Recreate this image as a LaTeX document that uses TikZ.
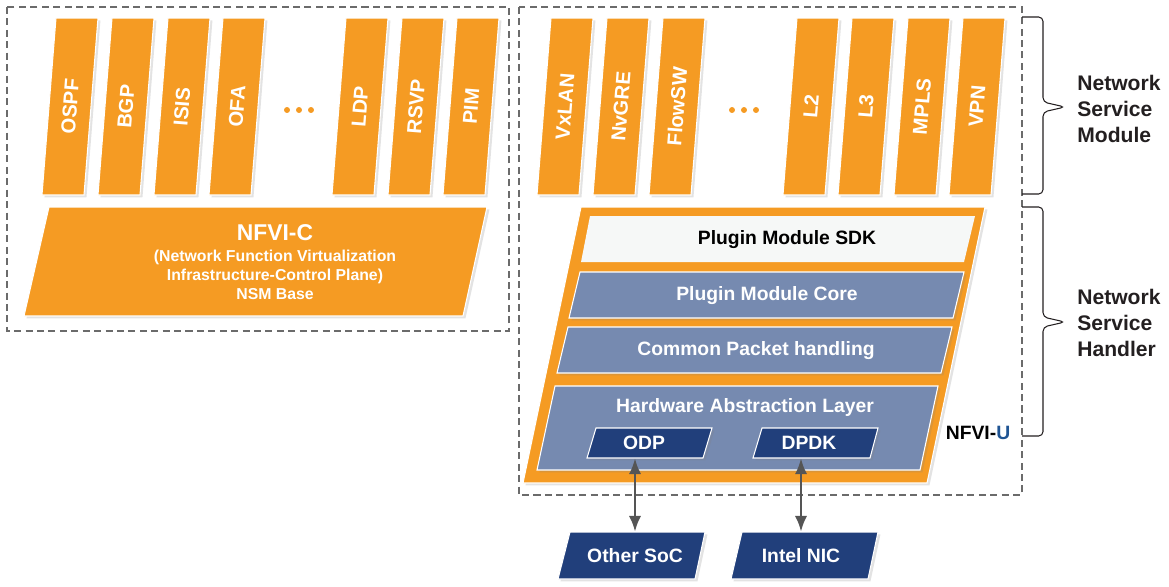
\documentclass[tikz,border=0pt]{standalone}
\usepackage{fontspec}
\setmainfont{Liberation Sans}
\usetikzlibrary{shadows,arrows.meta}
\definecolor{nsmorange}{HTML}{F59B23}
\definecolor{layerslate}{HTML}{768AB0}
\definecolor{chipnavy}{HTML}{213F7B}
\definecolor{sdkwhite}{HTML}{F6F8F7}
\definecolor{ublue}{HTML}{1F5493}
\definecolor{linkgray}{HTML}{555555}
\definecolor{boxgray}{HTML}{6B6B6B}
\definecolor{inkblack}{HTML}{231F20}
\tikzstyle{every node}=[inner sep=0pt]
\tikzstyle{shade}=[drop shadow={opacity=0.22, shadow xshift=1.4pt, shadow yshift=-1.4pt}]
\tikzstyle{bar}=[fill=nsmorange, draw=white, line width=0.6pt, shade]
\tikzstyle{barlabel}=[text=white, font=\bfseries\fontsize{11.5}{12}\selectfont, rotate=85.5]
\tikzstyle{layer}=[fill=layerslate, draw=white, line width=0.6pt, shade]
\tikzstyle{layerlabel}=[text=white, font=\bfseries\fontsize{11}{13}\selectfont]
\tikzstyle{chip}=[fill=chipnavy, draw=white, line width=0.6pt, shade]
\tikzstyle{region}=[draw=boxgray, line width=0.6pt, dash pattern=on 4pt off 2.5pt]
\tikzstyle{brace}=[draw=inkblack, line width=0.6pt, rounded corners=2.5pt]
\tikzstyle{sidelabel}=[text=inkblack, font=\bfseries\fontsize{12}{14.8}\selectfont, align=left, anchor=west]
\tikzstyle{link}=[draw=linkgray, line width=1.3pt, {Latex[length=9pt,width=7pt]}-{Latex[length=9pt,width=7pt]}]

\begin{document}
\begin{tikzpicture}[x=0.02cm, y=-0.02cm]
    \useasboundingbox (0,0) rectangle (1169,586);
% Dashed regions
    \draw[region] (7,7) rectangle (509,331);
    \draw[region] (519,7) rectangle (1022,495);
% Control plane bars
    \filldraw[bar] (42,195) -- (84,195) -- (98,18) -- (56,18) -- cycle;
    \filldraw[bar] (98,195) -- (140,195) -- (154,18) -- (112,18) -- cycle;
    \filldraw[bar] (154,195) -- (196,195) -- (210,18) -- (168,18) -- cycle;
    \filldraw[bar] (209,195) -- (251,195) -- (265,18) -- (223,18) -- cycle;
    \filldraw[bar] (332,195) -- (374,195) -- (388,18) -- (346,18) -- cycle;
    \filldraw[bar] (388,195) -- (430,195) -- (444,18) -- (402,18) -- cycle;
    \filldraw[bar] (443,195) -- (485,195) -- (499,18) -- (457,18) -- cycle;
    \node[barlabel] (ospf) at (70,106.5) {OSPF};
    \node[barlabel] (bgp) at (126,106.5) {BGP};
    \node[barlabel] (isis) at (182,106.5) {ISIS};
    \node[barlabel] (ofa) at (237,106.5) {OFA};
    \node[barlabel] (ldp) at (360,106.5) {LDP};
    \node[barlabel] (rsvp) at (416,106.5) {RSVP};
    \node[barlabel] (pim) at (471,106.5) {PIM};
    \fill[nsmorange] (287,110) circle (1.7pt);
    \fill[nsmorange] (299,110) circle (1.7pt);
    \fill[nsmorange] (311,110) circle (1.7pt);
% Control plane base
    \filldraw[bar] (24,316) -- (463,316) -- (487,207) -- (49,207) -- cycle;
    \node[text=white, align=center, font=\bfseries\fontsize{9}{10.8}\selectfont] (nfvic) at (275,262)
        {{\fontsize{13}{15}\selectfont NFVI-C}\\[1pt] (Network Function Virtualization\\ Infrastructure-Control Plane)\\ NSM Base};
% Service module bars
    \filldraw[bar] (537,195) -- (579,195) -- (593,18) -- (551,18) -- cycle;
    \filldraw[bar] (593,195) -- (635,195) -- (649,18) -- (607,18) -- cycle;
    \filldraw[bar] (649,195) -- (691,195) -- (705,18) -- (663,18) -- cycle;
    \filldraw[bar] (783,195) -- (825,195) -- (839,18) -- (797,18) -- cycle;
    \filldraw[bar] (838,195) -- (880,195) -- (894,18) -- (852,18) -- cycle;
    \filldraw[bar] (894,195) -- (936,195) -- (950,18) -- (908,18) -- cycle;
    \filldraw[bar] (949,195) -- (991,195) -- (1005,18) -- (963,18) -- cycle;
    \node[barlabel] (vxlan) at (565,106.5) {VxLAN};
    \node[barlabel] (nvgre) at (621,106.5) {NvGRE};
    \node[barlabel] (flowsw) at (677,106.5) {FlowSW};
    \node[barlabel] (ltwo) at (811,106.5) {L2};
    \node[barlabel] (lthree) at (866,106.5) {L3};
    \node[barlabel] (mpls) at (922,106.5) {MPLS};
    \node[barlabel] (vpn) at (977,106.5) {VPN};
    \fill[nsmorange] (732,110) circle (1.7pt);
    \fill[nsmorange] (744,110) circle (1.7pt);
    \fill[nsmorange] (756,110) circle (1.7pt);
% User plane stack
    \filldraw[bar] (523,483) -- (927,483) -- (985,207) -- (581,207) -- cycle;
    \fill[sdkwhite] (581,262) -- (964,262) -- (975,216) -- (590,216) -- cycle;
    \filldraw[layer] (569,318) -- (953,318) -- (964,272) -- (580,272) -- cycle;
    \filldraw[layer] (557,373) -- (941,373) -- (952,327) -- (568,327) -- cycle;
    \filldraw[layer] (537,470) -- (920,470) -- (938,386) -- (555,386) -- cycle;
    \node[layerlabel, text=black] (sdk) at (787,240) {Plugin Module SDK};
    \node[layerlabel] (core) at (767,296) {Plugin Module Core};
    \node[layerlabel] (packet) at (756,351) {Common Packet handling};
    \node[layerlabel] (hal) at (745,407) {Hardware Abstraction Layer};
    \filldraw[chip] (587,458) -- (703,458) -- (712,428) -- (596,428) -- cycle;
    \filldraw[chip] (753,458) -- (870,458) -- (878,428) -- (762,428) -- cycle;
    \node[layerlabel, minimum height=0.6cm] (odp) at (644,443) {ODP};
    \node[layerlabel, minimum height=0.6cm] (dpdk) at (809,443) {DPDK};
    \node[font=\bfseries\fontsize{11}{13}\selectfont] (nfviu) at (978,433) {NFVI-\textcolor{ublue}{U}};
% Hardware
    \filldraw[chip] (558,579) -- (695,579) -- (705,532) -- (570,532) -- cycle;
    \filldraw[chip] (731,579) -- (868,579) -- (878,532) -- (742,532) -- cycle;
    \node[layerlabel, minimum height=0.94cm] (soc) at (635,555.5) {Other SoC};
    \node[layerlabel, minimum height=0.94cm] (nic) at (801,555.5) {Intel NIC};
    \draw[link] (odp.south -| soc.north) -- (soc.north);
    \draw[link] (dpdk.south -| nic.north) -- (nic.north);
% Braces
    \draw[brace] (1022,17) -- (1043,17) -- (1043,102) -- (1065,107) -- (1043,112) -- (1043,194) -- (1022,194);
    \draw[brace] (1022,207) -- (1043,207) -- (1043,317) -- (1065,322) -- (1043,327) -- (1043,436) -- (1022,436);
    \node[sidelabel] (module) at (1077,109) {Network\\Service\\Module};
    \node[sidelabel] (handler) at (1077,323) {Network\\Service\\Handler};
\end{tikzpicture}
\end{document}
